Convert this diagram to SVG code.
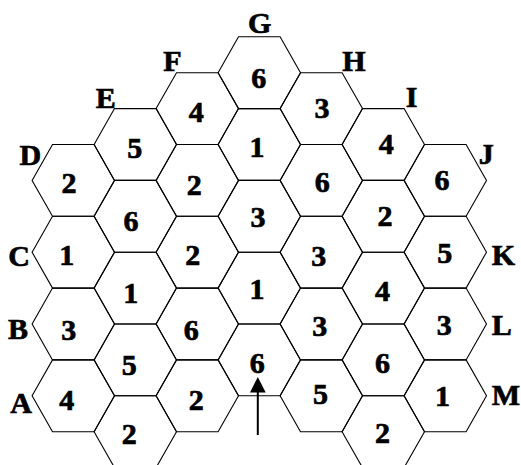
<svg xmlns="http://www.w3.org/2000/svg" xmlns:xlink="http://www.w3.org/1999/xlink" width="521" height="465" viewBox="0 0 521 465">
<style>
.hex{fill:none;stroke:#000;stroke-width:1.1}
text{font-family:"Liberation Serif","Times New Roman",serif;font-weight:700;font-size:30px;text-anchor:middle;fill:#000;stroke:#000;stroke-width:0.7}
.arrow{stroke:#000;stroke-width:2;fill:none}
</style>
<defs>
<polygon id="hx" class="hex" points="-41.2,0 -20.8,-35.9 20.8,-35.9 41.2,0 20.8,35.9 -20.8,35.9"/>
</defs>
<rect width="521" height="465" fill="#fff"/>
<g id="col0" font-weight="bold">
<g id="h0-0"><use xlink:href="#hx" x="73.3" y="180.4"/><text x="68.9" y="193">2</text></g>
<g id="h0-1"><use xlink:href="#hx" x="73.3" y="252.2"/><text x="66.7" y="264.7">1</text></g>
<g id="h0-2"><use xlink:href="#hx" x="73.3" y="324"/><text x="68.8" y="340">3</text></g>
<g id="h0-3"><use xlink:href="#hx" x="73.3" y="395.8"/><text x="66.7" y="409.5">4</text></g>
</g>
<g id="col1" font-weight="bold">
<g id="h1-0"><use xlink:href="#hx" x="135.3" y="144.5"/><text x="134.7" y="157.8">5</text></g>
<g id="h1-1"><use xlink:href="#hx" x="135.3" y="216.3"/><text x="131" y="231">6</text></g>
<g id="h1-2"><use xlink:href="#hx" x="135.3" y="288.1"/><text x="130.7" y="303">1</text></g>
<g id="h1-3"><use xlink:href="#hx" x="135.3" y="359.9"/><text x="129.2" y="374.5">5</text></g>
<g id="h1-4"><use xlink:href="#hx" x="135.3" y="431.7"/><text x="129.2" y="444">2</text></g>
</g>
<g id="col2" font-weight="bold">
<g id="h2-0"><use xlink:href="#hx" x="197.3" y="108.6"/><text x="196.2" y="121.7">4</text></g>
<g id="h2-1"><use xlink:href="#hx" x="197.3" y="180.4"/><text x="194.2" y="194.5">2</text></g>
<g id="h2-2"><use xlink:href="#hx" x="197.3" y="252.2"/><text x="192.8" y="265">2</text></g>
<g id="h2-3"><use xlink:href="#hx" x="197.3" y="324"/><text x="191.2" y="339.7">6</text></g>
<g id="h2-4"><use xlink:href="#hx" x="197.3" y="395.8"/><text x="196.2" y="410.3">2</text></g>
</g>
<g id="col3" font-weight="bold">
<g id="h3-0"><use xlink:href="#hx" x="259.3" y="72.7"/><text x="258.8" y="87.5">6</text></g>
<g id="h3-1"><use xlink:href="#hx" x="259.3" y="144.5"/><text x="257" y="157">1</text></g>
<g id="h3-2"><use xlink:href="#hx" x="259.3" y="216.3"/><text x="258" y="227">3</text></g>
<g id="h3-3"><use xlink:href="#hx" x="259.3" y="288.1"/><text x="257" y="299">1</text></g>
<g id="h3-4"><use xlink:href="#hx" x="259.3" y="359.9"/><text x="257.2" y="372.5">6</text></g>
</g>
<g id="col4" font-weight="bold">
<g id="h4-0"><use xlink:href="#hx" x="321.3" y="108.6"/><text x="322" y="118">3</text></g>
<g id="h4-1"><use xlink:href="#hx" x="321.3" y="180.4"/><text x="322.2" y="191.7">6</text></g>
<g id="h4-2"><use xlink:href="#hx" x="321.3" y="252.2"/><text x="318.7" y="266">3</text></g>
<g id="h4-3"><use xlink:href="#hx" x="321.3" y="324"/><text x="319.7" y="336">3</text></g>
<g id="h4-4"><use xlink:href="#hx" x="321.3" y="395.8"/><text x="320.5" y="403.8">5</text></g>
</g>
<g id="col5" font-weight="bold">
<g id="h5-0"><use xlink:href="#hx" x="383.3" y="144.5"/><text x="386.2" y="153.7">4</text></g>
<g id="h5-1"><use xlink:href="#hx" x="383.3" y="216.3"/><text x="385" y="225.8">2</text></g>
<g id="h5-2"><use xlink:href="#hx" x="383.3" y="288.1"/><text x="382.5" y="301.3">4</text></g>
<g id="h5-3"><use xlink:href="#hx" x="383.3" y="359.9"/><text x="382.5" y="373.3">6</text></g>
<g id="h5-4"><use xlink:href="#hx" x="383.3" y="431.7"/><text x="382.5" y="443">2</text></g>
</g>
<g id="col6" font-weight="bold">
<g id="h6-0"><use xlink:href="#hx" x="445.3" y="180.4"/><text x="442" y="190">6</text></g>
<g id="h6-1"><use xlink:href="#hx" x="445.3" y="252.2"/><text x="444.7" y="262.5">5</text></g>
<g id="h6-2"><use xlink:href="#hx" x="445.3" y="324"/><text x="444.3" y="334.7">3</text></g>
<g id="h6-3"><use xlink:href="#hx" x="445.3" y="395.8"/><text x="442.5" y="405.5">1</text></g>
</g>
<g id="labels" font-weight="bold">
<text x="259.7" y="33.3">G</text>
<text x="172.5" y="70.7">F</text>
<text x="105.7" y="107.7">E</text>
<text x="30.3" y="165">D</text>
<text x="19.2" y="266">C</text>
<text x="18" y="339">B</text>
<text x="21.2" y="413.3">A</text>
<text x="353.8" y="71">H</text>
<text x="411.5" y="107.3">I</text>
<text x="486.3" y="163.5">J</text>
<text x="503.3" y="265">K</text>
<text x="501.7" y="335">L</text>
<text x="506" y="405">M</text>
</g>
<g id="connectors">
<line class="arrow" x1="257.8" y1="435" x2="257.8" y2="390"/>
<polygon points="257.8,377 250,392.5 265.7,392.5" fill="#000"/>
</g>
</svg>
